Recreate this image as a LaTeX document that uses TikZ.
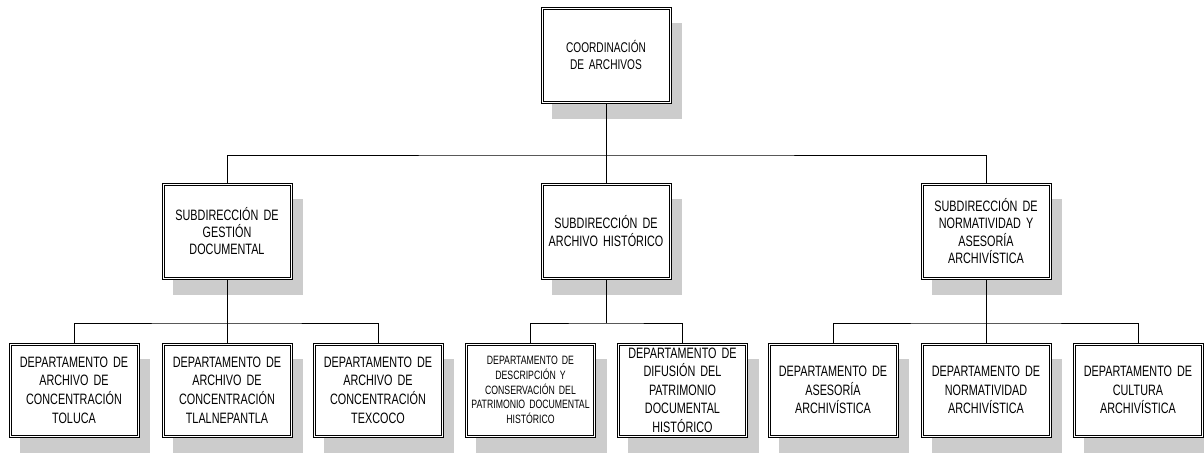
\documentclass[tikz,border=0pt]{standalone}
\usepackage{fontspec}
\setmainfont{Liberation Sans}[FakeStretch=0.72]
\usepackage{tikz}
\usetikzlibrary{shadows}
\definecolor{sombra}{RGB}{204,204,204}
\tikzset{
	box/.style={draw=black, line width=0.6pt, fill=white,
		minimum width=3.25cm, minimum height=2.4cm, inner sep=1pt, text width=3.1cm, align=center,
		font=\fontsize{10.7}{12.2}\selectfont,
		drop shadow={shadow xshift=0.275cm, shadow yshift=-0.4cm, fill=sombra, opacity=1}},
	topbox/.style={box, font=\fontsize{10}{12}\selectfont},
	dept/.style={box, minimum height=2.35cm, font=\fontsize{10.7}{13.2}\selectfont},
	deptsmall/.style={dept, font=\fontsize{8.6}{10.5}\selectfont}
}
\begin{document}
\begin{tikzpicture}[x=0.025cm, y=-0.025cm, line width=0.7pt]
		\useasboundingbox (0,0) rectangle (1204,456);
		% coordinacion
		\node[topbox] (coord) at (606,55) {COORDINACIÓN\\DE ARCHIVOS};
		% subdirecciones
		\node[box] (gestion) at (227,231) {SUBDIRECCIÓN DE\\GESTIÓN\\DOCUMENTAL};
		\node[box] (historico) at (606,231) {SUBDIRECCIÓN DE\\ARCHIVO HISTÓRICO};
		\node[box] (normatividad) at (986,231) {SUBDIRECCIÓN DE\\NORMATIVIDAD Y\\ASESORÍA\\ARCHIVÍSTICA};
		% departamentos
		\node[dept] (toluca) at (74,390) {DEPARTAMENTO DE\\ARCHIVO DE\\CONCENTRACIÓN\\TOLUCA};
		\node[dept] (tlalne) at (227,390) {DEPARTAMENTO DE\\ARCHIVO DE\\CONCENTRACIÓN\\TLALNEPANTLA};
		\node[dept] (texcoco) at (378,390) {DEPARTAMENTO DE\\ARCHIVO DE\\CONCENTRACIÓN\\TEXCOCO};
		\node[deptsmall] (descripcion) at (530.5,390) {DEPARTAMENTO DE\\DESCRIPCIÓN Y\\CONSERVACIÓN DEL\\PATRIMONIO DOCUMENTAL\\HISTÓRICO};
		\node[dept] (difusion) at (682.5,390) {DEPARTAMENTO DE\\DIFUSIÓN DEL\\PATRIMONIO\\DOCUMENTAL\\HISTÓRICO};
		\node[dept] (asesoria) at (833,390) {DEPARTAMENTO DE\\ASESORÍA\\ARCHIVÍSTICA};
		\node[dept] (norma) at (986,390) {DEPARTAMENTO DE\\NORMATIVIDAD\\ARCHIVÍSTICA};
		\node[dept] (cultura) at (1138,390) {DEPARTAMENTO DE\\CULTURA\\ARCHIVÍSTICA};
		% doble borde
		\foreach \n in {coord,gestion,historico,normatividad,toluca,tlalne,texcoco,descripcion,difusion,asesoria,norma,cultura}
			\draw[line width=0.6pt] ([shift={(2.5,2.5)}]\n.north west) rectangle ([shift={(-2.5,-2.5)}]\n.south east);
		% lineas
		\coordinate (bus0) at (606,155);
		\coordinate (bus1) at (227,323);
		\coordinate (bus2) at (606,323);
		\coordinate (bus3) at (986,323);
		\draw (coord) -- (historico);
		\draw (gestion) |- (bus0) -| (normatividad);
		\draw (gestion) -- (tlalne);
		\draw (toluca) |- (bus1) -| (texcoco);
		\draw (historico) -- (bus2);
		\draw (descripcion) |- (bus2) -| (difusion);
		\draw (normatividad) -- (norma);
		\draw (asesoria) |- (bus3) -| (cultura);
	\end{tikzpicture}
\end{document}
